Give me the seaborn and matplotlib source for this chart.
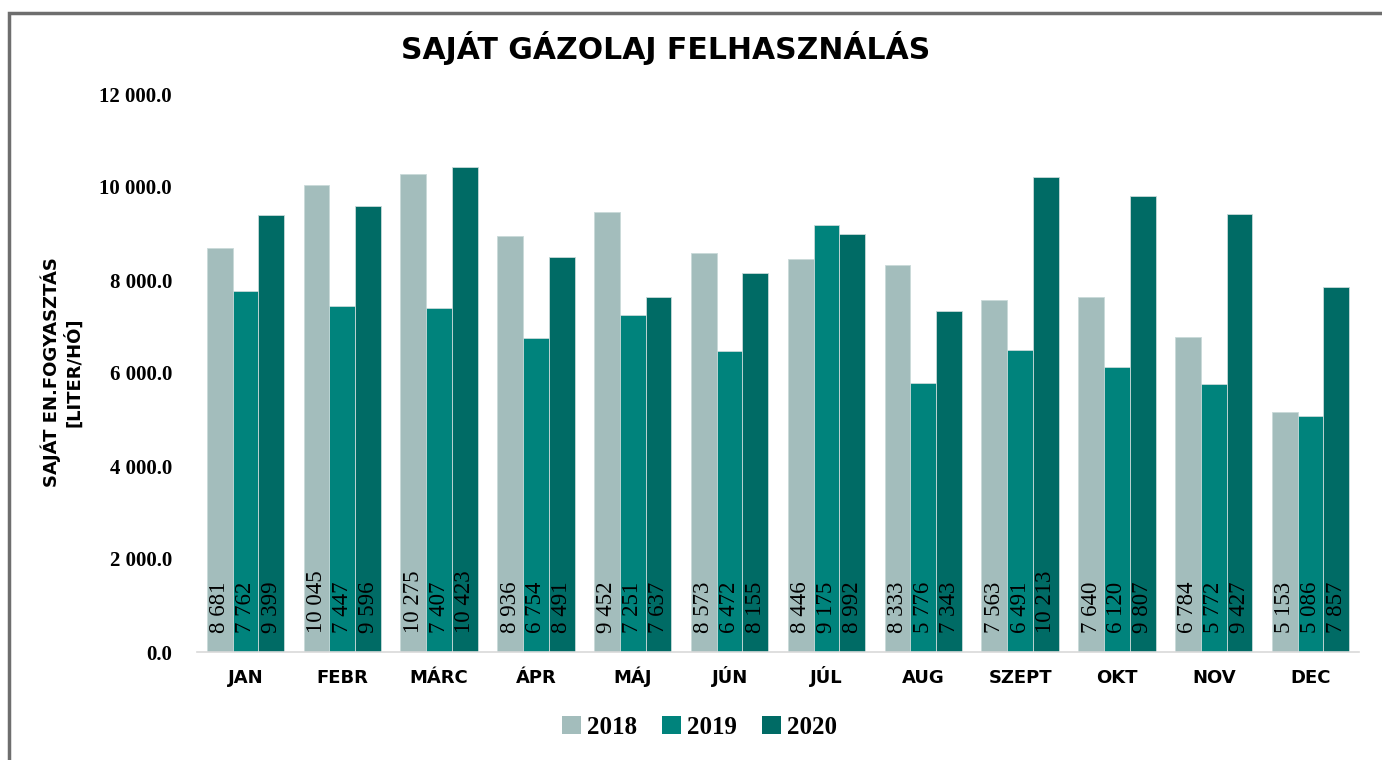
import pandas as pd
import numpy as np
import matplotlib
matplotlib.use('Agg')
import matplotlib.pyplot as plt
import seaborn as sns
from matplotlib.patches import Rectangle, Patch


# Data
months = ['JAN', 'FEBR', 'MÁRC', 'ÁPR', 'MÁJ', 'JÚN', 'JÚL', 'AUG', 'SZEPT', 'OKT', 'NOV', 'DEC']
years = ['2018', '2019', '2020']
v2018 = [8681, 10045, 10275, 8936, 9452, 8573, 8446, 8333, 7563, 7640, 6784, 5153]
v2019 = [7762, 7447, 7407, 6754, 7251, 6472, 9175, 5776, 6491, 6120, 5772, 5086]
v2020 = [9399, 9596, 10423, 8491, 7637, 8155, 8992, 7343, 10213, 9807, 9427, 7857]
yticks = [0, 2000, 4000, 6000, 8000, 10000, 12000]

colors = ['#A3BDBC', '#00837C', '#006B65']

df = pd.DataFrame({
    'honap': months * 3,
    'ev': [y for y in years for _ in months],
    'ertek': v2018 + v2019 + v2020,
})

sns.set_style('white')
serif = ['Liberation Serif', 'DejaVu Serif']
sans = ['DejaVu Sans']
plt.rcParams['font.family'] = serif
plt.rcParams['text.color'] = 'black'
plt.rcParams['xtick.color'] = 'black'
plt.rcParams['ytick.color'] = 'black'

fig = plt.figure(figsize=(13.82, 7.6), dpi=100)
ax = fig.add_axes([197 / 1382, 1 - 652 / 760, (1359 - 197) / 1382, (652 - 94) / 760])

sns.barplot(data=df, x='honap', y='ertek', hue='ev', order=months, hue_order=years,
            palette=colors, saturation=1, width=0.8, edgecolor='#C9DAD9', linewidth=0.6,
            ax=ax, legend=False)


def fmt(v):
    return f'{v:,}'.replace(',', ' ')


# value labels at the bottom of each bar
for cont in ax.containers:
    for bar in cont:
        h = bar.get_height()
        ax.text(bar.get_x() + bar.get_width() / 2, 400, fmt(int(round(h))),
                rotation=90, ha='center', va='bottom', fontsize=16.5, color='black',
                family=serif)

ax.set_ylim(0, 12000)
ax.set_xlim(-0.5, 11.5)
ax.set_yticks(yticks)
ax.set_yticklabels([fmt(t) + '.0' for t in yticks], fontsize=15, fontweight='bold', family=serif)
ax.tick_params(axis='y', length=0, pad=18)

ax.set_xticks(range(len(months)))
ax.set_xticklabels(months, fontsize=13, fontweight='bold', family=sans, va='baseline')
ax.set_xticks(np.arange(-0.5, 12, 1), minor=True)
ax.tick_params(axis='x', which='major', length=0, pad=22)
ax.tick_params(axis='x', which='minor', length=7, color='#D9D9D9', width=1.2)

ax.set_xlabel('')
ax.set_ylabel('')
for s in ['top', 'right', 'left']:
    ax.spines[s].set_visible(False)
ax.spines['bottom'].set_color('#D9D9D9')
ax.spines['bottom'].set_linewidth(1.2)

fig.text(666 / 1382, 1 - 48 / 760, 'SAJÁT GÁZOLAJ FELHASZNÁLÁS', ha='center', va='center',
         fontsize=21.5, fontweight='bold', family=sans)
fig.text(62 / 1382, 1 - 372 / 760, 'SAJÁT EN.FOGYASZTÁS\n[LITER/HÓ]', rotation=90,
         ha='center', va='center', multialignment='center', fontsize=13,
         fontweight='bold', family=sans, linespacing=1.15)

handles = [Patch(facecolor=c, edgecolor='none') for c in colors]
fig.legend(handles, years, loc='center', bbox_to_anchor=(0.506, 1 - 727 / 760), ncol=3,
           frameon=False, handlelength=0.75, handleheight=0.75, handletextpad=0.25,
           columnspacing=1.0, prop={'family': serif, 'weight': 'bold', 'size': 18})

# grey frame, only top and left edges visible in the crop
fig.patches.append(Rectangle((8.5 / 1382, -0.05), 1.2, 1.05 - 12.5 / 760, transform=fig.transFigure,
                             fill=False, edgecolor='#6E6E6E', linewidth=2.5))

fig.savefig('out.png', dpi=100)
